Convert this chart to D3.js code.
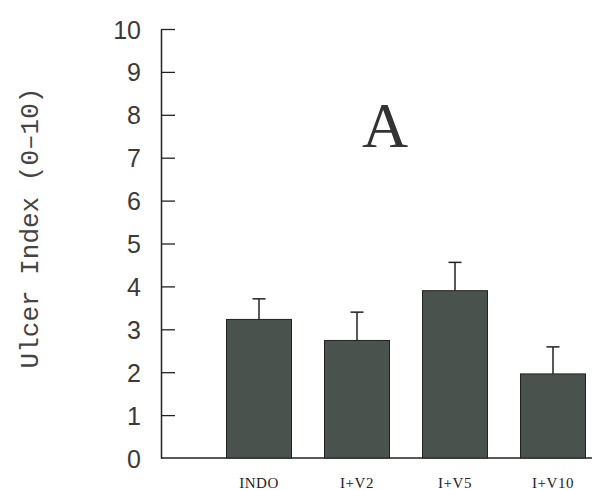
<!DOCTYPE html>
<html lang="en">
<head>
    <meta charset="UTF-8">
    <title>Ulcer Index</title>
    <script src="https://d3js.org/d3.v7.min.js"></script>
    <style>
        body { margin: 0; background: #fff; }
    </style>
</head>
<body>
    <svg width="592" height="490"></svg>

    <script>
        // Data
        const groups = ["INDO", "I+V2", "I+V5", "I+V10"];
        const means = [3.23, 2.74, 3.90, 1.96];
        const errTops = [3.71, 3.40, 4.56, 2.59];
        const yTicks = [0, 1, 2, 3, 4, 5, 6, 7, 8, 9, 10];

        const width = 592, height = 490;
        const axisX = 161, y0 = 458, y10 = 29;

        const svg = d3.select("svg")
                      .attr("width", width)
                      .attr("height", height);

        const yScale = d3.scaleLinear()
                         .domain([0, 10])
                         .range([y0, y10]);

        const xScale = d3.scaleBand()
                         .domain(groups)
                         .range([210, 602])
                         .paddingInner(0.337)
                         .paddingOuter(0.1685);

        // Y axis: ticks point inward, thin plotter-style labels
        const yAxis = svg.append("g")
           .attr("transform", `translate(${axisX},0)`)
           .call(d3.axisRight(yScale)
                   .tickValues(yTicks)
                   .tickSize(14)
                   .tickSizeOuter(0)
                   .tickFormat(d3.format("d")));

        yAxis.select(".domain")
             .attr("stroke", "#222")
             .attr("stroke-width", 1.5);

        yAxis.selectAll(".tick line")
             .attr("stroke", "#222")
             .attr("stroke-width", 1.3);

        yAxis.selectAll(".tick text")
             .attr("x", -20)
             .attr("dy", "0.36em")
             .attr("text-anchor", "end")
             .attr("fill", "#3a3a3a")
             .style("font-family", "'Liberation Sans', sans-serif")
             .style("font-size", "25px");

        // zero tick is the baseline itself
        yAxis.selectAll(".tick line").filter(d => d === 0).remove();

        // Baseline running off the right edge
        svg.append("line")
           .attr("x1", axisX)
           .attr("x2", width + 10)
           .attr("y1", yScale(0))
           .attr("y2", yScale(0))
           .attr("stroke", "#222")
           .attr("stroke-width", 1.5);

        // Error bars (upper only)
        const errs = groups.map((g, i) => ({ g, mean: means[i], top: errTops[i] }));

        svg.selectAll(".err")
           .data(errs)
           .enter().append("line")
           .attr("class", "err")
           .attr("x1", d => xScale(d.g) + xScale.bandwidth() / 2)
           .attr("x2", d => xScale(d.g) + xScale.bandwidth() / 2)
           .attr("y1", d => yScale(d.mean))
           .attr("y2", d => yScale(d.top))
           .attr("stroke", "#222")
           .attr("stroke-width", 1.5);

        svg.selectAll(".cap")
           .data(errs)
           .enter().append("line")
           .attr("class", "cap")
           .attr("x1", d => xScale(d.g) + xScale.bandwidth() / 2 - 6.5)
           .attr("x2", d => xScale(d.g) + xScale.bandwidth() / 2 + 6.5)
           .attr("y1", d => yScale(d.top))
           .attr("y2", d => yScale(d.top))
           .attr("stroke", "#222")
           .attr("stroke-width", 1.5);

        // Bars
        svg.selectAll(".bar")
           .data(errs)
           .enter().append("rect")
           .attr("class", "bar")
           .attr("x", d => xScale(d.g))
           .attr("y", d => yScale(d.mean))
           .attr("width", xScale.bandwidth())
           .attr("height", d => yScale(0) - yScale(d.mean))
           .attr("fill", "#4a524e")
           .attr("stroke", "#222")
           .attr("stroke-width", 1);

        // Category labels
        svg.selectAll(".xlab")
           .data(groups)
           .enter().append("text")
           .attr("class", "xlab")
           .attr("x", d => xScale(d) + xScale.bandwidth() / 2)
           .attr("y", 488)
           .attr("text-anchor", "middle")
           .attr("fill", "#222")
           .style("font-family", "'Liberation Serif', serif")
           .style("font-size", "15px")
           .style("letter-spacing", "0.5px")
           .text(d => d);

        // Y axis label
        svg.append("text")
           .attr("transform", "rotate(-90)")
           .attr("x", -228)
           .attr("y", 38)
           .attr("text-anchor", "middle")
           .attr("fill", "#444")
           .style("font-family", "'Liberation Mono', monospace")
           .style("font-size", "26px")
           .text("Ulcer Index (0\u201310)");

        // Panel letter
        svg.append("text")
           .attr("x", 385)
           .attr("y", 147)
           .attr("text-anchor", "middle")
           .attr("fill", "#333")
           .style("font-family", "'Liberation Serif', serif")
           .style("font-size", "64px")
           .text("A");
    </script>
</body>
</html>
